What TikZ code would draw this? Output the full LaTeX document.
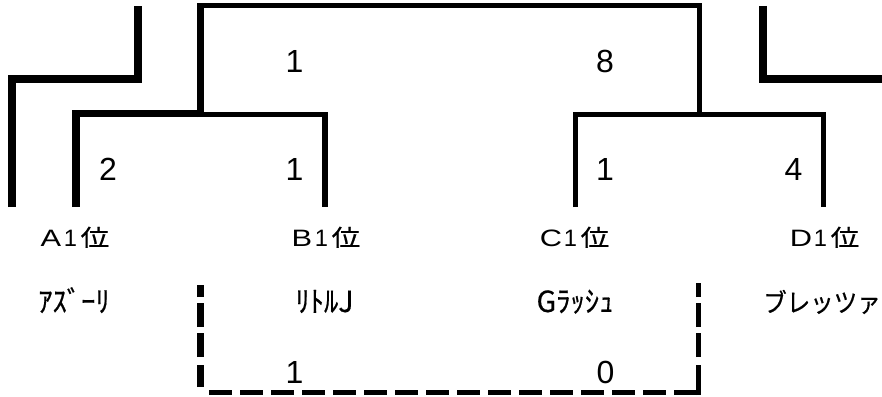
\documentclass[tikz,border=0pt]{standalone}
\usepackage{fontspec}
\setmainfont{Noto Sans CJK JP}[FakeBold=0.5]
\newfontfamily\digitfont{Liberation Sans}
\tikzset{
  thickln/.style={line width=8pt, line cap=butt, line join=miter},
  midln/.style={line width=7pt, line cap=butt, line join=miter},
  thinln/.style={line width=5pt, line cap=butt, line join=miter},
  score/.style={inner sep=0pt, anchor=base, font=\digitfont\fontsize{32}{32}\selectfont},
  seed/.style={inner sep=0pt, anchor=base},
  team/.style={inner sep=0pt, anchor=base, font=\fontsize{26}{26}\selectfont},
  teamfw/.style={inner sep=0pt, anchor=base, font=\fontsize{23.5}{23.5}\selectfont},
}
\newcommand{\hw}[1]{\scalebox{1.1}[1.12]{#1}}
\newcommand{\seedlbl}[1]{\hbox{\makebox[20pt][c]{\scalebox{1.3}[1]{\digitfont\fontsize{23.7}{24}\selectfont #1}}\makebox[19pt][c]{\digitfont\fontsize{23.7}{24}\selectfont 1}\makebox[30pt][c]{\scalebox{1.25}[1]{\fontsize{23}{24}\selectfont 位}}}}
\begin{document}
\begin{tikzpicture}[x=1pt,y=-1pt]
\useasboundingbox (0,0) rectangle (882,396);
% coordinates
\coordinate (ol1) at (12,207);
\coordinate (ol2) at (12,79);
\coordinate (ol3) at (137.5,79);
\coordinate (ol4) at (137.5,6);
\coordinate (or1) at (762.5,6);
\coordinate (or2) at (762.5,79);
\coordinate (or3) at (882,79);
\coordinate (a0) at (76,207);
\coordinate (a1) at (76,113.5);
\coordinate (ab) at (204,113.5);
\coordinate (fl0) at (200.5,117);
\coordinate (fl1) at (200.5,3.5);
\coordinate (ft1) at (200.5,6);
\coordinate (ft2) at (699.5,6);
\coordinate (ft3) at (699.5,114.5);
\coordinate (b1) at (200,114.5);
\coordinate (b2) at (325,114.5);
\coordinate (b0) at (325,207);
\coordinate (c0) at (575,207);
\coordinate (c1) at (575,114.5);
\coordinate (d1) at (823.5,114.5);
\coordinate (d0) at (823.5,207);
\coordinate (dl0) at (200.5,387);
\coordinate (dl1) at (200.5,285);
\coordinate (dh0) at (209,392.5);
\coordinate (dh1) at (697,392.5);
\coordinate (dr0) at (698.5,395);
\coordinate (dr1) at (698.5,283);
% bracket lines
\draw[thickln] (ol1) -- (ol2) -- (ol3) -- (ol4);
\draw[thickln] (or1) -- (or2) -- (or3);
\draw[line width=7.5pt, line join=miter] (a0) -- (a1) -- (ab);
\draw[midln] (fl0) -- (fl1);
\draw[thinln] (ft1) -- (ft2) -- (ft3);
\draw[line width=5.5pt, line join=miter] (b1) -- (b2) -- (b0);
\draw[thinln] (c0) -- (c1) -- (d1) -- (d0);
% dashed box
\draw[midln, dash pattern=on 22pt off 8pt on 24pt off 6pt on 24pt off 6pt on 12pt] (dl0) -- (dl1);
\draw[thinln, dash pattern=on 23pt off 8pt] (dh0) -- (dh1);
\draw[thinln, dash pattern=on 30pt off 8pt on 24pt off 6pt on 24pt off 6pt on 14pt] (dr0) -- (dr1);
% scores
\node[score] (s1) at (294.5,72) {1};
\node[score] (s8) at (605,72) {8};
\node[score] (sa) at (108,180) {2};
\node[score] (sb) at (294.5,180) {1};
\node[score] (sc) at (605,180) {1};
\node[score] (sd) at (793.5,180) {4};
\node[score] (xb) at (294.5,383) {1};
\node[score] (xc) at (605.5,383) {0};
% seeds
\node[seed] (pa) at (75.5,246) {\seedlbl{A}};
\node[seed] (pb) at (326.5,246) {\seedlbl{B}};
\node[seed] (pc) at (575.5,246) {\seedlbl{C}};
\node[seed] (pd) at (825.5,246) {\seedlbl{D}};
% teams
\node[team] (ta) at (74,312) {\hw{ｱｽﾞｰﾘ}};
\node[team] (tb) at (324.5,312) {\hw{ﾘﾄﾙJ}};
\node[team] (tc) at (575,312) {\hw{Gﾗｯｼｭ}};
\node[teamfw] (td) at (822,312) {\scalebox{1}[1.1]{ブレッツァ}};
\end{tikzpicture}
\end{document}
